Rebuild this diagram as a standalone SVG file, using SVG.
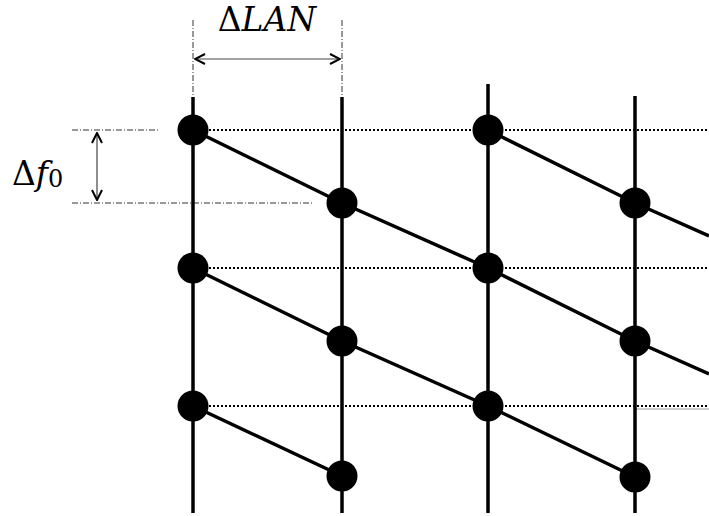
<svg xmlns="http://www.w3.org/2000/svg" width="709" height="516" viewBox="0 0 709 516">
<style>
.col{stroke:#000;stroke-width:3.5;fill:none}
.diag{stroke:#000;stroke-width:3.5;fill:none}
.dot{stroke:#000;stroke-width:2;stroke-dasharray:2,2;fill:none}
.dd{stroke:#000;stroke-width:0.8;stroke-dasharray:6,2,1,2;fill:none}
.dim{stroke:#444;stroke-width:1.2;fill:none}
.node{fill:#000}
.lbl{font-family:"DejaVu Serif","Liberation Serif",serif;font-size:33px;fill:#000}
</style>
<defs>
<marker id="ah" viewBox="0 0 12 12" refX="11" refY="6" markerWidth="12" markerHeight="12" markerUnits="userSpaceOnUse" orient="auto-start-reverse">
<path d="M1,1 L11,6 L1,11" fill="none" stroke="#000" stroke-width="2"/>
</marker>
</defs>
<g id="guides">
<line class="dd" x1="193" y1="20" x2="193" y2="97"/>
<line class="dd" x1="342" y1="20" x2="342" y2="97"/>
<line class="dd" x1="72" y1="130" x2="158" y2="130"/>
<line class="dd" x1="72" y1="203" x2="313" y2="203"/>
<line class="dot" x1="193" y1="130" x2="709" y2="130"/>
<line class="dot" x1="193" y1="268" x2="709" y2="268"/>
<line class="dot" x1="193" y1="406" x2="709" y2="406"/>
<line x1="635" y1="409" x2="709" y2="409" stroke="#999" stroke-width="1"/>
</g>
<g id="connectors">
<line class="col" x1="193" y1="97" x2="193" y2="513"/>
<line class="col" x1="342" y1="97" x2="342" y2="513"/>
<line class="col" x1="488" y1="84" x2="488" y2="513"/>
<line class="col" x1="635" y1="96" x2="635" y2="513"/>
<polyline class="diag" points="193,130 342,203 488,268"/>
<polyline class="diag" points="193,268 342,341 488,406 635,477"/>
<polyline class="diag" points="193,406 342,476"/>
<polyline class="diag" points="488,130 635,203 709,236"/>
<polyline class="diag" points="488,268 635,341 709,374"/>
</g>
<g id="dimensions">
<line class="dim" x1="195" y1="59" x2="340" y2="59" marker-start="url(#ah)" marker-end="url(#ah)"/>
<line class="dim" x1="97" y1="133" x2="97" y2="200" marker-start="url(#ah)" marker-end="url(#ah)"/>
<text class="lbl" x="267" y="31" text-anchor="middle">Δ<tspan font-style="italic">LAN</tspan></text>
<text class="lbl" x="12" y="185">Δ<tspan font-style="italic">f</tspan><tspan font-size="24" dy="2">0</tspan></text>
</g>
<g id="n1"><circle class="node" cx="193" cy="130" r="15.5"/></g>
<g id="n2"><circle class="node" cx="342" cy="203" r="15.5"/></g>
<g id="n3"><circle class="node" cx="193" cy="268" r="15.5"/></g>
<g id="n4"><circle class="node" cx="342" cy="341" r="15.5"/></g>
<g id="n5"><circle class="node" cx="193" cy="406" r="15.5"/></g>
<g id="n6"><circle class="node" cx="342" cy="476" r="15.5"/></g>
<g id="n7"><circle class="node" cx="488" cy="130" r="15.5"/></g>
<g id="n8"><circle class="node" cx="635" cy="203" r="15.5"/></g>
<g id="n9"><circle class="node" cx="488" cy="268" r="15.5"/></g>
<g id="n10"><circle class="node" cx="635" cy="341" r="15.5"/></g>
<g id="n11"><circle class="node" cx="488" cy="406" r="15.5"/></g>
<g id="n12"><circle class="node" cx="635" cy="477" r="15.5"/></g>
</svg>
